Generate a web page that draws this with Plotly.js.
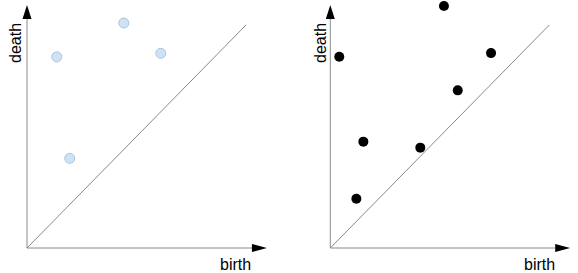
<!DOCTYPE html>
<html>
<head>
<meta charset="utf-8">
<script src="https://cdn.plot.ly/plotly-3.0.1.min.js"></script>
<style>html,body{margin:0;padding:0;background:#fff;}#chart{width:578px;height:273px;}</style>
</head>
<body>
<div id="chart"></div>
<script>
// Left diagram (light blue points)
const leftBirth = [0.136, 0.442, 0.611, 0.195];
const leftDeath = [0.857, 1.009, 0.873, 0.402];
// Right diagram (black points)
const rightBirth = [0.041, 0.519, 0.734, 0.582, 0.151, 0.411, 0.119];
const rightDeath = [0.858, 1.085, 0.874, 0.707, 0.477, 0.450, 0.221];
// Diagonal y = x
const diagonal = [0, 1];
// axis labels
const xLabel = 'birth';
const yLabel = 'death';
const axisLen = 1.027;   // end of axis line (arrow base)

const font = {family: 'Liberation Sans, Arial, sans-serif', size: 16, color: '#000'};
const lineCol = '#8a8a8a';

const traces = [
  {x: diagonal, y: diagonal, xaxis: 'x', yaxis: 'y', mode: 'lines', line: {color: lineCol, width: 1}, hoverinfo: 'skip'},
  {x: diagonal, y: diagonal, xaxis: 'x2', yaxis: 'y2', mode: 'lines', line: {color: lineCol, width: 1}, hoverinfo: 'skip'},
  {x: leftBirth, y: leftDeath, xaxis: 'x', yaxis: 'y', mode: 'markers', cliponaxis: false,
   marker: {size: 10, color: '#cfe2f3', line: {color: '#a9c6de', width: 1}}},
  {x: rightBirth, y: rightDeath, xaxis: 'x2', yaxis: 'y2', mode: 'markers', cliponaxis: false,
   marker: {size: 10, color: '#000', line: {width: 0}}}
];

function axisShapes(xr, yr) {
  return [
    {type: 'line', xref: xr, yref: yr, x0: 0, y0: 0, x1: axisLen, y1: 0, line: {color: lineCol, width: 1}},
    {type: 'line', xref: xr, yref: yr, x0: 0, y0: 0, x1: 0, y1: axisLen, line: {color: lineCol, width: 1}},
    // arrow heads (pixel-sized, anchored at axis ends)
    {type: 'path', xref: xr, yref: yr, xsizemode: 'pixel', ysizemode: 'pixel', xanchor: 0, yanchor: axisLen,
     path: 'M-4.5,0 L4.5,0 L0,14 Z', fillcolor: '#000', line: {width: 0}},
    {type: 'path', xref: xr, yref: yr, xsizemode: 'pixel', ysizemode: 'pixel', xanchor: axisLen, yanchor: 0,
     path: 'M0,-4 L0,4 L15,0 Z', fillcolor: '#000', line: {width: 0}}
  ];
}

const hidden = {visible: false, showgrid: false, zeroline: false, fixedrange: true};
const yRange = [-0.1121, 1.1121];

const layout = {
  width: 578, height: 273,
  margin: {l: 0, r: 0, t: 0, b: 0, pad: 0},
  paper_bgcolor: '#fff', plot_bgcolor: 'rgba(0,0,0,0)',
  showlegend: false,
  xaxis: Object.assign({domain: [0, 0.5], range: [-0.1233, 1.1963], anchor: 'y'}, hidden),
  yaxis: Object.assign({domain: [0, 1], range: yRange, anchor: 'x'}, hidden),
  xaxis2: Object.assign({domain: [0.5, 1], range: [-0.1886, 1.1311], anchor: 'y2'}, hidden),
  yaxis2: Object.assign({domain: [0, 1], range: yRange, anchor: 'x2'}, hidden),
  shapes: axisShapes('x', 'y').concat(axisShapes('x2', 'y2')),
  annotations: [
    {xref: 'paper', yref: 'paper', x: 15/578, y: 1 - 43/273, text: yLabel, textangle: -90, showarrow: false, font: font, xanchor: 'center', yanchor: 'middle'},
    {xref: 'paper', yref: 'paper', x: 235.5/578, y: 1 - 264/273, text: xLabel, showarrow: false, font: font, xanchor: 'center', yanchor: 'middle'},
    {xref: 'paper', yref: 'paper', x: 320/578, y: 1 - 43/273, text: yLabel, textangle: -90, showarrow: false, font: font, xanchor: 'center', yanchor: 'middle'},
    {xref: 'paper', yref: 'paper', x: 539/578, y: 1 - 264/273, text: xLabel, showarrow: false, font: font, xanchor: 'center', yanchor: 'middle'}
  ]
};

Plotly.newPlot('chart', traces, layout, {staticPlot: true, displayModeBar: false});
</script>
</body>
</html>
